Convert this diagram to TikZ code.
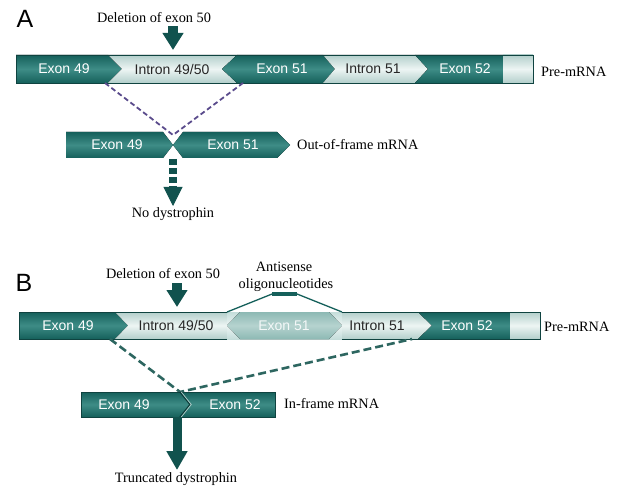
\documentclass[tikz,border=0pt]{standalone}
\usepackage{fontspec}
\setmainfont{Liberation Serif}
\setsansfont{Liberation Sans}
\usetikzlibrary{arrows.meta}
\definecolor{tdark}{HTML}{15605B}
\definecolor{tmid}{HTML}{3E8C86}
\definecolor{tlight}{HTML}{B3CFCB}
\definecolor{tlmid}{HTML}{EDF5F4}
\definecolor{tfade}{HTML}{8DB9B4}
\definecolor{tfmid}{HTML}{B5D3CF}
\definecolor{tfbox}{HTML}{C4DDDA}
\definecolor{purp}{HTML}{5A4B8C}
\definecolor{dashc}{HTML}{2D6660}
\definecolor{arrc}{HTML}{11524E}
\begin{document}
\begin{tikzpicture}[x=1pt,y=-1pt,
  darkseg/.style={top color=tdark,bottom color=tdark,middle color=tmid},
  lightseg/.style={top color=tlight,bottom color=tlight,middle color=tlmid},
  fadeseg/.style={top color=tfade,bottom color=tfade,middle color=tfmid},
  fadebox/.style={top color=tfbox,bottom color=tfbox,middle color=tlmid},
  lbl/.style={font=\sffamily\fontsize{14}{16}\selectfont,inner sep=0pt},
  wlbl/.style={lbl,text=white},
  blbl/.style={lbl,text=black!85},
  flbl/.style={lbl,text=white!90!tfade},
  txt/.style={font=\fontsize{14.3}{16}\selectfont,inner sep=0pt,text=black},
  panel/.style={font=\sffamily\fontsize{25}{28}\selectfont,inner sep=0pt},
  bigarrow/.style={arrc,line width=10pt,-{Triangle[length=17pt 0,width=20pt 0]}},
  headarrow/.style={arrc,line width=1pt,-{Triangle[length=19pt 0,width=19pt 0]}},
  dashA/.style={purp,line width=1.8pt,dash pattern=on 5pt off 3pt},
  dashB/.style={dashc,line width=2.6pt,dash pattern=on 8pt off 4pt}]
\fill[white] (0,0) rectangle (620,486);
\useasboundingbox (0,0) rectangle (620,486);

% ---------------- Panel A ----------------
\node[panel] (pA) at (25,19) {A};
\node[txt] (delA) at (154,18) {Deletion of exon 50};
\coordinate (arA1) at (173,26);
\coordinate (arA2) at (173,50);
\draw[bigarrow] (arA1) -- (arA2);

% pre-mRNA bar A
\fill[darkseg] (16,55) -- (108,55) -- (122,69) -- (108,83) -- (16,83) -- cycle;
\fill[lightseg] (108,55) -- (237,55) -- (222,69) -- (237,83) -- (108,83) -- (122,69) -- cycle;
\fill[darkseg] (237,55) -- (323,55) -- (335,69) -- (323,83) -- (237,83) -- (222,69) -- cycle;
\fill[lightseg] (323,55) -- (415,55) -- (428,69) -- (415,83) -- (323,83) -- (335,69) -- cycle;
\fill[darkseg] (415,55) -- (503,55) -- (503,83) -- (415,83) -- (428,69) -- cycle;
\fill[lightseg] (503,55) rectangle (533,83);
\draw[tdark!70!black,line width=0.6pt] (16,55) rectangle (533,83);
\node[wlbl] (a49) at (64,69) {Exon 49};
\node[blbl] (ai4950) at (172,69) {Intron 49/50};
\node[wlbl] (a51) at (282,69) {Exon 51};
\node[blbl] (ai51) at (373,69) {Intron 51};
\node[wlbl] (a52) at (465,69) {Exon 52};
\node[txt,anchor=west] (preA) at (541,72) {Pre-mRNA};

% dashed splice lines A
\coordinate (sA1) at (105,83);
\coordinate (sA2) at (243,83);
\coordinate (sAj) at (173,135);
\draw[dashA] (sA1) -- (sAj) -- (sA2);

% out-of-frame mRNA
\fill[darkseg] (66,132) -- (163,132) -- (173,145) -- (163,158) -- (66,158) -- cycle;
\fill[darkseg] (183,132) -- (277,132) -- (290,145) -- (277,158) -- (183,158) -- (173,145) -- cycle;
\node[wlbl] (m49) at (117,145) {Exon 49};
\node[wlbl] (m51) at (233,145) {Exon 51};
\node[txt,anchor=west] (oof) at (297,145) {Out-of-frame mRNA};

% dotted arrow to No dystrophin
\coordinate (dA1) at (173,159);
\coordinate (dA2) at (173,187);
\node[txt] (nodys) at (173,214) {No dystrophin};
\draw[arrc,line width=8pt,dash pattern=on 6pt off 3pt] (dA1) -- (dA2);
\coordinate (dA3) at (173,206);
\draw[headarrow] (dA2) -- (dA3);

% ---------------- Panel B ----------------
\node[panel] (pB) at (24,283) {B};
\node[txt] (delB) at (163,274) {Deletion of exon 50};
\coordinate (arB1) at (177,283);
\coordinate (arB2) at (177,307);
\draw[bigarrow] (arB1) -- (arB2);

\node[txt] (as1) at (284,267) {Antisense};
\node[txt] (as2) at (286,285) {oligonucleotides};

% pre-mRNA bar B
\fill[darkseg] (19,312) -- (115,312) -- (128,325.5) -- (115,339) -- (19,339) -- cycle;
\fill[lightseg] (115,312) -- (227,312) -- (227,339) -- (115,339) -- (128,325.5) -- cycle;
\fill[fadebox] (227,312) rectangle (342,339);
\fill[fadeseg] (240,312) -- (329,312) -- (342,325.5) -- (329,339) -- (240,339) -- (227,325.5) -- cycle;
\fill[lightseg] (342,312) -- (418,312) -- (432,325.5) -- (418,339) -- (342,339) -- cycle;
\fill[darkseg] (418,312) -- (510,312) -- (510,339) -- (418,339) -- (432,325.5) -- cycle;
\fill[lightseg] (510,312) rectangle (540,339);
\draw[tdark!70!black,line width=0.6pt] (19,312) -- (227,312);
\draw[tdark!70!black,line width=0.6pt] (342,312) -- (540,312) -- (540,339) -- (342,339);
\draw[tdark!70!black,line width=0.6pt] (227,339) -- (19,339) -- (19,312);
\node[wlbl] (b49) at (68,325.5) {Exon 49};
\node[blbl] (bi4950) at (176,325.5) {Intron 49/50};
\node[flbl] (b51) at (284,325.5) {Exon 51};
\node[blbl] (bi51) at (377,325.5) {Intron 51};
\node[wlbl] (b52) at (467,325.5) {Exon 52};
\node[txt,anchor=west] (preB) at (544,327) {Pre-mRNA};

% antisense bracket
\coordinate (ao1) at (227,312);
\coordinate (ao2) at (272,294);
\coordinate (ao3) at (297,294);
\coordinate (ao4) at (342,312);
\draw[tdark,line width=1.3pt] (ao1) -- (ao2) -- (ao3) -- (ao4);
\draw[tdark,line width=4pt] (ao2) -- (ao3);

% dashed splice lines B
\coordinate (sB1) at (110,339);
\coordinate (sB2) at (412,339);
\coordinate (sBj) at (180,392);
\draw[dashB] (sB1) -- (sBj) -- (sB2);

% in-frame mRNA
\fill[darkseg] (81,392) rectangle (275,417);
\draw[tdark!70!black,line width=0.6pt] (81,392) rectangle (275,417);
\draw[tlight,line width=0.8pt] (181.2,392) -- (191.2,404.5) -- (181.2,417);
\draw[tdark!60!black,line width=1pt] (179.8,392) -- (189.8,404.5) -- (179.8,417);
\node[wlbl] (f49) at (124,404.5) {Exon 49};
\node[wlbl] (f52) at (235,404.5) {Exon 52};
\node[txt,anchor=west] (inf) at (284,404) {In-frame mRNA};

% arrow to truncated dystrophin
\coordinate (tB1) at (177,417);
\coordinate (tB2) at (177,470);
\node[txt] (trunc) at (176,479) {Truncated dystrophin};
\draw[arrc,line width=9pt,-{Triangle[length=19pt 0,width=20pt 0]}] (tB1) -- (tB2);
\end{tikzpicture}
\end{document}
